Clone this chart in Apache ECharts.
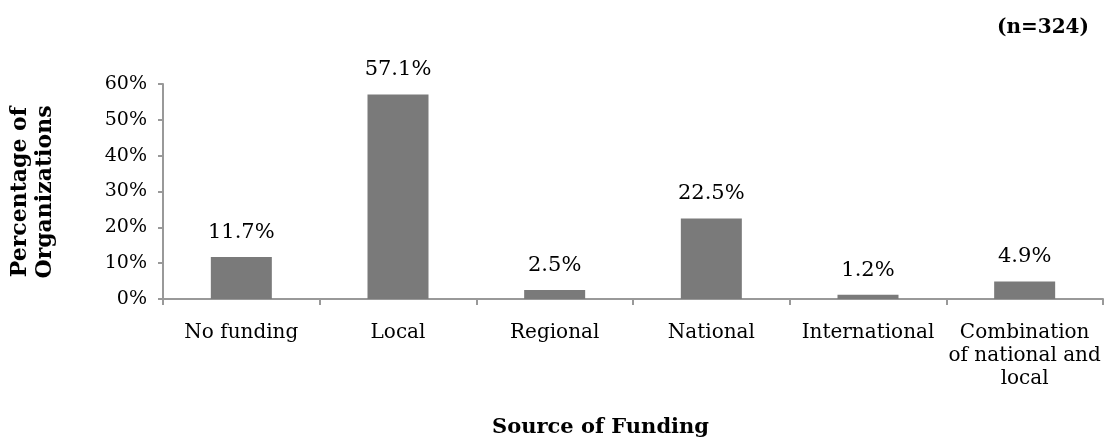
<!DOCTYPE html>
<html>
<head>
<meta charset="utf-8">
<script src="https://cdn.jsdelivr.net/npm/echarts@6/dist/echarts.min.js"></script>
<style>html,body{margin:0;padding:0;background:#fff}#c{width:1104px;height:439px}</style>
</head>
<body>
<div id="c"></div>
<script>
var categories = ['No funding', 'Local', 'Regional', 'National', 'International', 'Combination\nof national and\nlocal'];
var values = [11.7, 57.1, 2.5, 22.5, 1.2, 4.9];
var yTicks = [0, 10, 20, 30, 40, 50, 60];

var FONT = '"DejaVu Serif", serif';
var chart = echarts.init(document.getElementById('c'));
chart.setOption({
  animation: false,
  grid: { left: 163, right: 1, top: 84, bottom: 140, containLabel: false },
  title: [
    { text: '(n=324)', right: 10, top: 13, textStyle: { fontFamily: FONT, fontWeight: 'bold', fontSize: 20, color: '#000' } },
    { text: 'Source of Funding', left: 487, top: 412, textStyle: { fontFamily: FONT, fontWeight: 'bold', fontSize: 21, color: '#000' } }
  ],
  graphic: [{
    type: 'text', x: 33, y: 192, rotation: Math.PI / 2,
    style: { text: 'Percentage of\nOrganizations', fontFamily: FONT, fontWeight: 'bold', fontSize: 22, lineHeight: 25, fill: '#000', align: 'center', verticalAlign: 'middle' }
  }],
  xAxis: {
    type: 'category', data: categories,
    axisLine: { lineStyle: { color: '#999', width: 2 } },
    axisTick: { show: true, length: 6, lineStyle: { color: '#999', width: 2 } },
    axisLabel: { interval: 0, margin: 22, fontFamily: FONT, fontSize: 20, color: '#000', lineHeight: 23 }
  },
  yAxis: {
    type: 'value', min: yTicks[0], max: yTicks[yTicks.length - 1], interval: 10,
    splitLine: { show: false },
    axisLine: { show: true, lineStyle: { color: '#999', width: 2 } },
    axisTick: { show: true, length: 5, lineStyle: { color: '#999', width: 2 } },
    axisLabel: { margin: 16, fontFamily: FONT, fontSize: 19, color: '#000', formatter: '{value}%' }
  },
  series: [{
    type: 'bar', data: values, barWidth: 61,
    itemStyle: { color: '#7a7a7a' },
    label: { show: true, position: 'top', distance: 14, fontFamily: FONT, fontSize: 21, color: '#000', formatter: function (p) { return p.value.toFixed(1) + '%'; } }
  }]
});
</script>
</body>
</html>
